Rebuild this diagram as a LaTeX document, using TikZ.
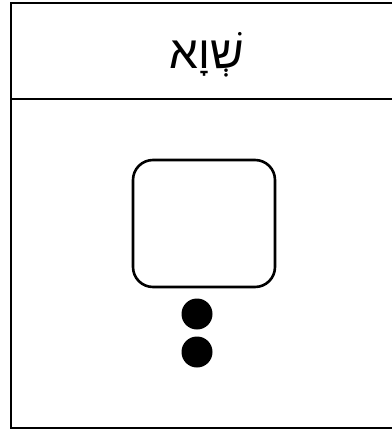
\documentclass[tikz,border=0pt]{standalone}
\usepackage{fontspec}
\newfontfamily\hebfont[Script=Hebrew]{Liberation Sans}
\TeXXeTstate=1
\begin{document}
\begin{tikzpicture}[x=1pt,y=-1pt,
  frameline/.style={line width=2.2pt,line cap=rect},
  glyphbox/.style={draw,line width=2.6pt,rounded corners=20pt,minimum width=142pt,minimum height=127pt,inner sep=0pt},
  dotmark/.style={fill=black,circle,minimum size=31pt,inner sep=0pt}]
\useasboundingbox (0,0) rectangle (391,430);
\coordinate (tl) at (11,3);
\coordinate (tr) at (395,3);
\coordinate (bl) at (11,428);
\coordinate (br) at (395,428);
\coordinate (ml) at (11,99);
\coordinate (mr) at (395,99);
\draw[frameline] (tr) -- (tl) -- (bl) -- (br);
\draw[frameline] (ml) -- (mr);
\node[font=\hebfont\fontsize{46}{52}\selectfont] (title) at (207,55) {\beginR שְׁוָא\endR};
\node[glyphbox] (box) at (204,223.5) {};
\node[dotmark] (d1) at (197,314) {};
\node[dotmark] (d2) at (197,352) {};
\end{tikzpicture}
\end{document}
